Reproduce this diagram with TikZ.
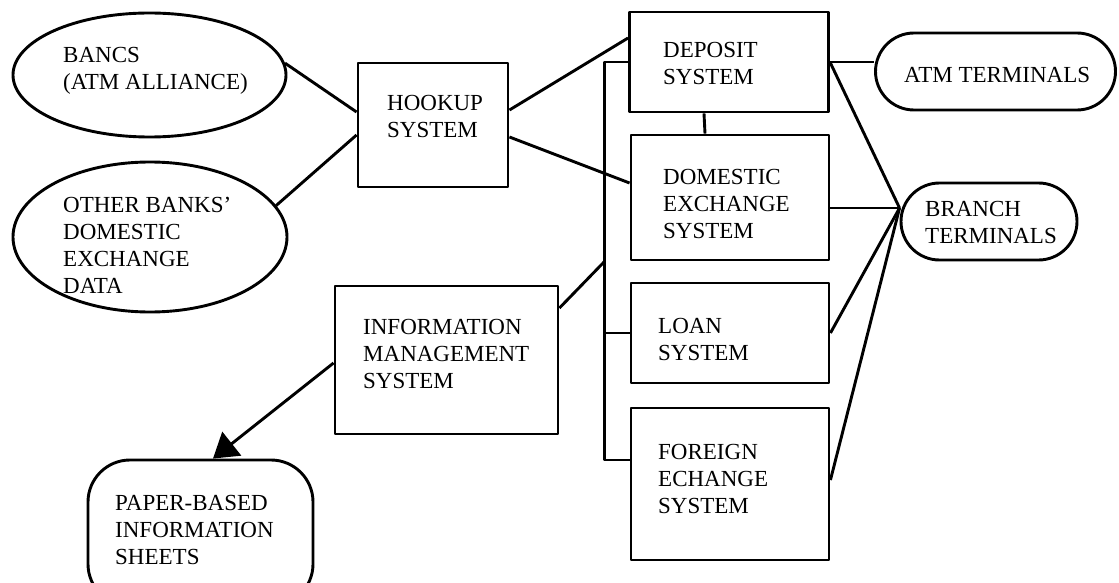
\documentclass[tikz,border=0pt]{standalone}
\usepackage{fontspec}
\setmainfont{Liberation Serif}
\usetikzlibrary{shapes.geometric,shapes.misc,arrows.meta,calc}

\begin{document}
\begin{tikzpicture}[x=1pt,y=-1pt,
  line join=round,
  outline/.style={draw=black,line width=2.9pt,inner sep=0pt},
  oval/.style={outline,ellipse},
  sysbox/.style={outline,rectangle},
  pill/.style={outline,rounded rectangle,rounded rectangle arc length=180},
  sheet/.style={outline,rectangle,rounded corners=42pt},
  wire/.style={line width=2.9pt},
  thinwire/.style={line width=2.4pt},
  caption/.style={anchor=base west,align=left,inner sep=0pt,
    font=\fontsize{23}{27}\selectfont}]

\useasboundingbox (0,0) rectangle (1119,583);

% external sources
\node[oval,minimum width=273pt,minimum height=124pt] (bancs) at (149.5,75) {};
\node[oval,minimum width=274pt,minimum height=150pt] (other) at (150,237) {};

% processing systems
\node[sysbox,minimum width=150pt,minimum height=124pt] (hook) at (433,125) {};
\node[sysbox,minimum width=199pt,minimum height=100pt] (dep) at (729,62) {};
\node[sysbox,minimum width=198pt,minimum height=125pt] (dom) at (730,197.5) {};
\node[sysbox,minimum width=198pt,minimum height=100pt] (loan) at (730,333) {};
\node[sysbox,minimum width=198pt,minimum height=152pt] (forex) at (730,484) {};
\node[sysbox,minimum width=223pt,minimum height=148pt] (info) at (446.5,360) {};

% terminals and output
\node[pill,minimum width=240pt,minimum height=77pt] (atm) at (995.5,71.5) {};
\node[pill,minimum width=176pt,minimum height=77pt] (branch) at (989,221.5) {};
\node[sheet,minimum width=225pt,minimum height=146pt] (paper) at (200.5,533) {};

% labels (each placed by the baseline of its last line)
\node[caption] (tbancs) at (63,90) {BANCS\\(ATM ALLIANCE)};
\node[caption] (tother) at (63,293) {OTHER BANKS’\\DOMESTIC\\EXCHANGE\\DATA};
\node[caption] (thook) at (387,138) {HOOKUP\\SYSTEM};
\node[caption] (tdep) at (663,85) {DEPOSIT\\SYSTEM};
\node[caption] (tdom) at (663,238) {DOMESTIC\\EXCHANGE\\SYSTEM};
\node[caption] (tloan) at (658,360) {LOAN\\SYSTEM};
\node[caption] (tforex) at (658,513) {FOREIGN\\ECHANGE\\SYSTEM};
\node[caption] (tinfo) at (363,388) {INFORMATION\\MANAGEMENT\\SYSTEM};
\node[caption] (tatm) at (904,83) {ATM TERMINALS};
\node[caption] (tbranch) at (925,243) {BRANCH\\TERMINALS};
\node[caption] (tpaper) at (115,564) {PAPER-BASED\\INFORMATION\\SHEETS};

% junction points
\coordinate (bustop) at ([xshift=-23.5pt]dep.west);
\coordinate (busbot) at ([xshift=-25pt,yshift=24pt]forex.west);
\coordinate (junc) at (bustop |- dom.south);
\coordinate (bin) at ([yshift=13.5pt]branch.west);

% sources into hookup
\draw[wire] (bancs.5) -- ([yshift=13pt]hook.west);
\draw[wire] (other.14) -- ([yshift=-10pt]hook.west);

% hookup out to deposit and domestic exchange
\draw[wire] ([yshift=15pt]hook.east) -- ([yshift=24pt]dep.west);
\draw[wire] ([yshift=-12pt]hook.east) -- ([yshift=14.5pt]dom.west);
\draw[wire] ([xshift=-25pt]dep.south) -- ([xshift=-25pt]dom.north);

% bus feeding the information system
\draw[wire] (dep.west) -- (bustop) -- (busbot) -- ([yshift=24pt]forex.west);
\draw[wire] (loan.west) -- (loan.west -| bustop);
\draw[wire] ([yshift=52pt]info.east) -- (junc);

% terminals
\draw[thinwire] (dep.east) -- (dep.east -| atm.west);
\draw[wire] (dep.east) -- (bin);
\draw[thinwire] ([yshift=-10.5pt]dom.east) -- (bin);
\draw[wire] (loan.east) -- (bin);
\draw[wire] ([yshift=4pt]forex.east) -- (bin);

% printed output
\draw[wire,-{Triangle[length=24pt,width=30pt]}] ([yshift=-3pt]info.west) -- ([xshift=12.5pt]paper.north);

\end{tikzpicture}
\end{document}
